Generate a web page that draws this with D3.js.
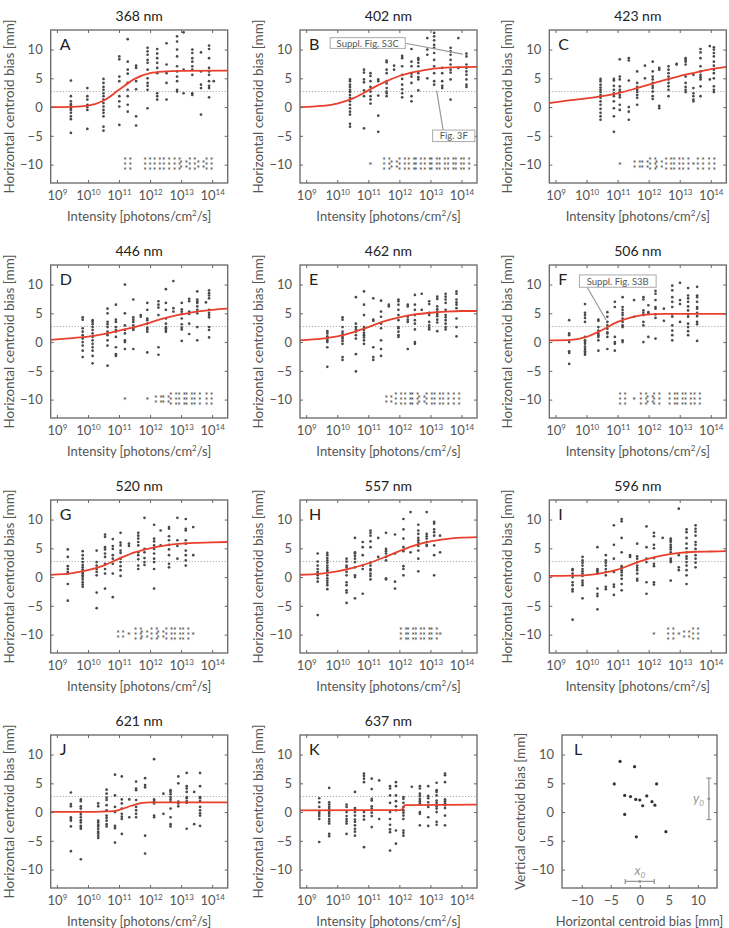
<!DOCTYPE html>
<html><head><meta charset="utf-8">
<script src="https://cdn.jsdelivr.net/npm/d3@7"></script>
<style>body{margin:0;background:#fff} svg{display:block} text{font-family:Lato,"Open Sans",sans-serif}</style>
</head><body><svg id="c" width="729" height="928"></svg>
<script>
// ---------- DATA (log10 intensity columns, bias values in mm) ----------
const A_title="368 nm", B_title="402 nm", C_title="423 nm", D_title="446 nm", E_title="462 nm", F_title="506 nm";
const G_title="520 nm", H_title="557 nm", I_title="596 nm", J_title="621 nm", K_title="637 nm";

const A_cols=[9.45,9.98,10.5,11.01,11.28,11.55,11.92,12.23,12.53,12.87,13.08,13.36,13.64,13.9,14.05];
const A_vals=[[4.6,1.9,1.0,0.5,0.2,0,-0.3,-0.5,-1.0,-1.6,-2.1,-4.5],[3.3,1.9,1.3,0.4,0,-0.5,-3.8],
[4.9,4.2,3.5,3.0,2.4,1.9,1.3,0.7,0.1,-0.5,-1.0,-1.6,-3.4,-4.1],[8.8,8.3,5.3,4.5,1.9,1.0,0.1,-3.1],
[11.8,7.9,6.5,5.8,4.2,3.0,1.9,0.4,-0.8],[7.2,6.8,4.5,3.1,-1.6,-3.2],[10.3,9.7,9.1,8.2,7.7,6.5,5.0,4.2,3.7,3.0,-0.2],
[10.1,9.3,8.5,7.7,6.8,5.9,2.4,1.9,1.3],[11.1,7.4,5.9,4.2,1.3],[12.3,11.4,10.0,8.8,7.1,6.2,5.3,4.5,3.0,2.7],
[13.0,6.5,2.4],[10.0,9.4,8.5,7.9,7.1,6.5,5.6,2.4,2.1],[9.5,6.2,3.9,3.3,-1.3],[10.7,10.1,8.5,6.8,6.2,5.6,4.5,3.7,3.3,1.7],[4.5]];
const A_stars=[[11.28,3],[11.92,3],[12.23,3],[12.53,3],[12.87,3],[13.08,2],[13.36,3],[13.64,2],[13.9,3]];
const A_fit=[[8.8,0],[9.5,0.05],[10,0.25],[10.5,1.1],[11,3.0],[11.5,4.9],[12,5.9],[12.5,6.2],[13,6.3],[14.5,6.35]];

const B_cols=[10.41,10.86,11.07,11.32,11.59,11.83,12.09,12.39,12.61,12.90,13.12,13.38,13.65,13.90,14.16];
const B_vals=[[4.8,4.5,3.9,3.5,3.0,2.6,2.1,1.6,1.0,0.4,-0.2,-0.8,-1.3,-2.9,-3.4],[6.5,6.0,4.8,4.3,2.9,1.9,-3.7],
[5.9,5.4,4.5,3.5,2.7,1.9,1.3,0.6],[4.8,4.5,2.0,-1.5,-4.3],[8.1,7.8,6.5,5.9,4.5,4.1,3.3,2.7,2.4,1.9],[7.2,6.5],
[8.9,8.5,7.1,5.6,4.9,3.9,3.1,2.4,1.7],[10.1,7.9,7.1,5.8,5.3,4.2,1.9,1.0],[8.5,8.2,7.7,7.1,5.9,5.2,4.8,2.9],
[12.0,10.0,9.1,5.0],[12.9,12.3,11.6,10.8,10.3,9.4,8.2,7.1,5.9,4.5,3.9],[6.8,5.9,4.5,3.7,3.3],
[10.3,9.7,9.1,8.2,7.4,6.5,6.0,4.8,1.3],[12.0,6.8],[9.3,8.8,7.4,6.8,6.2,5.6,4.8,3.9,3.5]];
const B_stars=[[11.07,1],[11.59,3],[11.83,2],[12.09,3],[12.39,3],[12.61,3],[12.90,3],[13.12,3],[13.38,3],[13.65,3],[13.90,3],[14.16,3]];
const B_fit=[[8.8,0],[9.5,0.2],[10,0.6],[10.5,1.5],[11,2.9],[11.5,4.3],[12,5.4],[12.5,6.1],[13,6.6],[13.5,6.85],[14,6.95],[14.5,7.0]];

const C_cols=[10.45,10.88,11.07,11.36,11.63,11.88,12.13,12.34,12.64,12.90,13.19,13.44,13.67,13.97,14.1];
const C_vals=[[4.9,4.5,3.9,3.4,3.0,2.6,2.1,1.6,1.0,0.4,-0.3,-1.0,-1.6,-2.2],[4.9,4.6,3.7,3.0,2.4,1.9,1.0,-0.2,-1.6,-4.3],
[8.3,5.3,4.8,3.6,3.0,2.6,2.1,1.7,0.4,-0.5],[8.5,8.1,4.6,0.0,-0.8,-2.2],[6.2,4.2,3.5,3.0,2.6,2.1,1.6,0.4],[7.2,5.0],
[7.9,6.2,5.3,4.8,4.2,3.7,3.3,2.7,1.9,1.4],[6.8,6.5,0.2,-0.2],[7.1,6.5,5.9,5.3,4.8,4.2,3.6,3.0,1.9],[7.5,7.4],
[8.5,8.2,7.9,7.4,5.3,4.2,3.5,3.0,2.6],[5.6,3.3,2.4,1.9,1.3,1.0],[10.1,9.5,8.5,7.1,6.2,5.6,5.2,4.8,3.6,1.9],[10.6,4.8],
[10.4,10.0,9.4,8.8,7.9,7.2,6.5,5.9,5.0,3.6,3.0,2.6]];
const C_stars=[[11.07,1],[11.63,2],[11.88,2],[12.13,3],[12.34,2],[12.64,3],[12.90,3],[13.19,3],[13.44,1],[13.67,3],[14.03,3]];
const C_fit=[[8.8,0.7],[9.5,1.2],[10,1.5],[10.5,1.9],[11,2.4],[11.5,3.1],[12,3.9],[12.5,4.7],[13,5.4],[13.5,6.0],[14,6.6],[14.5,7.0]];

const D_cols=[9.83,10.15,10.63,10.9,11.19,11.46,11.7,11.91,12.27,12.51,12.75,13.02,13.26,13.52,13.8,13.9];
const D_vals=[[4.3,3.9,2.4,1.8,1.2,0.6,0,-0.6,-1.5,-2.6],[3.8,3.5,3.1,2.6,2.1,1.5,0.9,0.3,-0.3,-0.9,-1.5,-2.4,-3.7],
[5.8,5.0,3.5,3.1,2.6,1.8,1.2,0.3,-0.6,-4.1],[6.5,3.9,3.5,2.6,2.1,1.8,0.9,-0.9,-2.1,-2.4],[10.0,5.0,2.9,2.1,1.5,0.3,0.0,-1.2],
[7.4,4.3,3.9,3.5,2.9,2.4,2.1,-1.2],[4.7,4.4],[6.8,5.6,4.1,3.8,3.2,2.5,2.2,1.8,-1.8],[7.1,6.5,6.0,4.7,-0.9,-2.2],
[9.2,6.8,5.6,4.1,3.2,2.6,2.4,2.1,1.8],[10.6,5.9,5.3],[6.8,5.7,5.3,4.9,4.1,3.1,2.5,2.2,0.2],[7.5,7.1,5.3,4.9,3.2,1.4],
[8.8,7.4,7.1,6.8,6.2,5.6,5.0,2.6,0.3],[6.9],[9.0,8.5,8.1,7.6,5.6,5.1,4.7,4.3,2.6,2.1,0.8]];
const D_stars=[[11.19,1],[11.91,1],[12.27,2],[12.51,2],[12.75,3],[13.02,3],[13.26,3],[13.52,3],[13.9,3]];
const D_fit=[[8.8,0.4],[9.5,0.7],[10,0.95],[10.5,1.4],[11,2.0],[11.5,2.6],[12,3.4],[12.5,4.2],[13,4.8],[13.5,5.3],[14,5.6],[14.5,5.8]];

const E_cols=[9.68,10.17,10.6,10.86,11.16,11.41,11.66,11.97,12.27,12.5,12.72,12.96,13.22,13.49,13.84];
const E_vals=[[1.9,1.5,1.0,0.6,0.3,0,-0.9,-4.3],[4.3,3.9,2.6,1.8,1.4,0.9,0.6,0.2,-0.3,-2.6,-3.1],
[7.8,3.2,2.6,2.2,1.8,1.2,0.6,-2.1,-5.1],[8.8,6.5,4.7,2.6,2.1,1.6,1.2,0.8,0.3,-0.3],[7.6,3.9,3.7,-0.9,-2.6,-3.1],
[7.2,5.3,4.4,3.2,2.4,0.3,-1.2,-2.4],[6.5,6.2],[7.4,7.1,6.5,5.6,4.7,3.8,2.6,2.4,1.8,1.2,0.9],[6.5,6.2,4.4,3.9,3.5,-1.2],
[8.2,6.5,5.6,4.7,3.8,3.2,2.2,0.0,-0.3],[8.4,5.6],[7.1,6.6,5.1,4.7,3.5,2.9,2.5,2.2],[7.9,7.5,6.2,5.7,5.3,4.9,4.5,3.9,3.4,1.9],
[8.4,7.9,7.4,6.8,5.6,4.7,4.3,3.8,3.2,2.6,2.2],[8.8,8.4,7.4,6.9,6.5,5.9,4.1,2.6,1.0]];
const E_stars=[[11.66,2],[11.97,3],[12.27,3],[12.5,3],[12.72,2],[12.96,3],[13.22,3],[13.49,3],[13.84,3]];
const E_fit=[[8.8,0.3],[9.5,0.6],[10,1.0],[10.5,1.7],[11,2.6],[11.5,3.6],[12,4.3],[12.5,4.8],[13,5.1],[13.5,5.3],[14,5.4],[14.5,5.4]];

const F_cols=[9.44,9.95,10.38,10.67,10.91,11.16,11.53,11.83,11.99,12.22,12.49,12.76,13.01,13.27,13.56];
const F_vals=[[3.8,1.5,1.2,0,-1.6,-1.9,-3.8],[6.6,5.1,4.7,4.2,3.5,0.9,0.3,0,-0.3,-0.8,-1.2,-1.6,-1.9,-2.2],
[3.9,3.7,2.6,2.0,1.5,1.2,0.9,0.3,-1.5],[5.2,4.4,3.5,2.9,2.3,1.7,1.5,0.9,-1.2],[7.0,6.1,0.9,0,-0.3,-1.5],
[7.8,6.1,5.6,5.1,4.7,4.1,3.5,2.9,2.6,0.3,0],[7.3,4.4],[7.8,7.4,5.5,5.1,4.7,3.5,2.9,0],[6.4,5.2,4.9,0.9],
[8.9,8.4,7.3,6.1,5.8,4.8,4.2,0.6],[5.8,3.7],[9.8,9.0,7.8,7.0,6.1,4.8,4.4,2.9,2.0,1.2,0.3],[10.3,7.3,6.6,3.5],
[9.4,8.1,7.6,7.0,6.2,5.5,4.8,4.4,3.2,2.6,1.9,1.2],[9.6,8.1,7.8,7.0,6.1,5.8,5.1,4.5,3.5,3.1,0.2]];
const F_stars=[[11.16,3],[11.53,1],[11.83,3],[12.05,2],[12.26,3],[12.76,3],[13.01,3],[13.27,3],[13.56,3]];
const F_fit=[[8.8,0.3],[9.5,0.4],[10,0.9],[10.5,2.1],[11,3.5],[11.5,4.4],[12,4.8],[12.5,4.9],[14.5,4.9]];

const G_cols=[9.35,9.83,10.28,10.55,10.8,11.05,11.32,11.62,11.82,12.13,12.34,12.61,12.88,13.15,13.39];
const G_vals=[[4.8,3.5,1.9,1.4,0.9,0.6,-1.2,-4.1],[4.5,3.8,3.2,2.6,2.1,1.7,1.3,0.9,0.6,0.3,0,-0.4,-0.9,-1.3,-1.7],
[4.6,2.6,2.0,1.4,0.9,0.3,-2.7,-5.4],[7.4,7.0,5.2,4.8,4.1,3.5,2.3,1.4,0.6,-2.0],[6.6,5.4,4.9,3.8,3.2,2.3,0.6,-3.5],
[7.7,6.0,5.5,4.6,4.2,3.2,2.6,1.9,1.2,0.2],[5.8,5.4],[7.7,7.2,6.7,6.1,5.5,4.3,3.8,3.1,2.0,1.4],[10.3,4.9,4.3,3.3,2.6,2.1],
[9.1,6.7,6.2,5.5,4.9,4.1,3.2,2.6,1.4,-2.0],[8.1,5.5],[8.7,8.4,7.1,6.4,5.6,4.8,3.8,2.3,1.7],[10.3,6.4,5.4,3.2],
[10.1,8.4,8.1,6.4,5.8,4.6,3.8,2.9,2.0],[8.7,3.8]];
const G_stars=[[11.05,2],[11.32,1],[11.62,3],[11.82,2],[12.13,3],[12.34,2],[12.61,3],[12.88,3],[13.15,3],[13.39,1]];
const G_fit=[[8.8,0.4],[9.5,0.7],[10,1.2],[10.5,2.0],[11,3.2],[11.5,4.3],[12,5.0],[12.5,5.5],[13,5.8],[13.5,5.95],[14,6.05],[14.5,6.1]];

const H_cols=[9.37,9.68,10.3,10.57,10.82,11.07,11.32,11.57,11.86,12.13,12.36,12.61,12.88,13.12,13.31];
const H_vals=[[4.1,2.7,2.0,1.4,0.9,0.6,0.3,-0.2,-0.8,-6.6],[4.2,3.8,3.3,2.9,2.5,2.0,1.6,1.2,0.9,0.3,-0.2,-0.6,-1.0,-1.4,-2.1],
[3.2,2.7,2.0,1.7,0.9,0.3,-0.9,-1.4,-2.3,-2.7,-4.5],[6.8,4.3,4.1,3.7,3.2,2.6,1.7,0.3,0,-3.7],[6.1,5.2,3.8,2.0,1.4,-2.9],
[8.1,7.7,7.2,6.2,5.2,2.5,2.0,1.4,1.2,0.6,0.2,-0.4],[6.8,3.5],[7.7,4.9,4.5,4.1,3.5,2.9,-0.2,-0.4],[7.4,4.1,-0.8,-2.0],
[10.1,8.3,6.7,5.2,4.5,1.9,1.4,0.3],[11.3,4.3],[9.1,8.1,7.5,6.8,6.4,6.0,5.4,4.6,3.2,1.0],[11.3,7.5,7.1,6.7,6.1,5.6,5.4],
[9.6,9.3,8.3,7.8,7.2,5.5,3.8,0.3],[7.2,4.3]];
const H_stars=[[12.13,3],[12.36,3],[12.61,3],[12.88,3],[13.12,3],[13.31,1]];
const H_fit=[[8.8,0.4],[9.5,0.6],[10,1.0],[10.5,1.6],[11,2.4],[11.5,3.4],[12,4.5],[12.5,5.5],[13,6.2],[13.5,6.6],[14,6.85],[14.5,6.95]];

const I_cols=[9.55,9.87,10.35,10.62,10.88,11.13,11.4,11.63,11.93,12.17,12.45,12.71,12.97,13.22,13.51];
const I_vals=[[1.4,1.2,0.6,0,-0.9,-1.4,-2.1,-2.5,-7.4],[3.5,2.9,2.5,2.0,1.4,1.0,0.6,0.2,-0.6,-1.0,-1.4,-3.7],
[5.2,1.4,1.2,0.9,0.6,-2.0,-2.9,-3.3,-5.6],[3.8,2.9,2.5,2.0,1.4,0.9,0.3,-1.7,-2.1],[9.0,5.6,3.2,0.9,-1.3,-1.7,-3.1],
[10.1,9.7,6.8,4.3,1.9,1.6,1.2,0.8,0.3,-0.3,-1.2,-2.3],[3.8,3.5],[5.8,3.6,3.2,2.6,2.0,1.6,1.2,0.6,-0.3,-0.6],
[8.8,5.2,3.2,2.6,-0.9,-2.9],[7.7,7.1,5.6,5.0,3.3,2.3,1.9,-0.9,-1.3],[6.8],[6.7,6.4,6.1,5.6,5.2,4.8,4.3,3.2,2.9,2.6,-0.6],
[11.9,3.8,1.7,1.2],[8.3,7.8,6.8,5.8,5.0,4.3,3.6,3.2,2.6,2.0,1.2,0.3,-1.2],[9.0,8.4,7.9,7.2,6.1,5.6,4.9,3.8,3.2,2.5,1.7]];
const I_stars=[[12.17,1],[12.71,3],[12.97,1],[13.22,2],[13.51,3]];
const I_fit=[[8.8,0.2],[9.5,0.25],[10,0.35],[10.5,0.7],[11,1.3],[11.5,2.3],[12,3.2],[12.5,3.8],[13,4.2],[13.5,4.4],[14,4.45],[14.5,4.5]];

const J_cols=[9.45,9.77,10.33,10.6,10.87,11.09,11.33,11.55,11.84,12.13,12.43,12.66,12.91,13.18,13.42,13.61];
const J_vals=[[3.4,1.4,1.0,-0.9,-1.2,-1.5,-2.5,-6.8],[2.2,1.9,1.0,0.6,0,-0.4,-0.9,-1.4,-1.8,-2.4,-2.6,-2.9,-8.2],
[1.5,1.0,-1.5,-1.8,-2.2,-2.5,-2.9,-3.4,-3.7,-4.1,-4.5],[3.9,3.2,2.5,2.1,1.2,0.3,-0.6,-1.0,-1.5,-2.1,-2.5],
[6.5,2.9,0.9,0,-2.4,-2.8,-5.3],[6.2,2.2,1.5,0.6,-0.3,-0.8,-1.2,-3.8],[2.2,-0.9],[5.3,4.1,3.8,2.1,0.9,0.3,-0.3,-0.9],
[5.9,4.7,4.3,-4.1,-7.2],[9.2,2.2,1.9,1.5,-0.6,-0.9],[3.2,-0.3],[3.8,3.5,3.1,2.6,2.2,1.8,0.6,-0.9,-2.1,-2.5],
[6.2,5.0,1.8,1.5,1.0],[6.8,4.5,4.1,3.5,2.6,2.4,1.9,1.6,-2.9],[3.5,-2.1],[6.8,4.5,2.6,2.4,1.9,0.9,0.3,-0.2,-0.6,-2.4]];
const J_stars=[];
const J_fit=[[8.8,0.05],[10,0.05],[10.5,0.1],[10.8,0.15],[11.1,0.55],[11.4,1.1],[11.7,1.55],[12,1.7],[14.5,1.7]];

const K_cols=[9.42,9.74,10.3,10.57,10.86,11.11,11.35,11.7,11.89,12.13,12.4,12.66,12.93,13.2,13.47];
const K_vals=[[2.4,1.7,0.9,0,-0.3,-0.7,-1.2,-5.2],[4.2,1.7,1.3,0.9,0.5,0,-0.3,-0.7,-1.2,-1.6,-2.0,-3.8,-4.2],
[1.3,0.9,0,-0.7,-1.2,-1.6,-2.0,-3.8],[3.5,0.7,0.5,0,-0.6,-1.3,-1.7,-2.3,-2.9,-3.4,-4.1],[6.7,6.3,5.8,5.2,0,-0.7,-1.3,-6.1],
[5.8,4.0,2.3,2.0,1.0,0.6,-0.1,-0.7,-2.6],[5.5,-1.2],[4.5,4.1,2.9,1.6,0,-1.2,-2.2,-3.0,-3.5,-6.7],[5.2,4.5,2.9,1.9,1.0,0.3,-3.2,-5.5],
[2.6,2.3,1.6,0.9,0.3,-0.1,-0.6,-1.2,-3.2,-3.6,-4.1],[4.4],[4.5,4.1,3.2,2.8,2.3,1.9,1.5,0,-0.3,-2.3],[4.5,2.8,2.4,1.7,0.9,-0.9,-2.4],
[5.1,3.8,3.5,2.9,2.0,1.6,1.0,0.6,0,-1.7,-2.2],[6.7,6.4,5.2,2.2,1.9,1.5,1.2,0.7,-0.6,-2.3]];
const K_stars=[];
const K_fit=[[8.8,0.3],[12.05,0.35],[12.12,0.7],[12.18,1.2],[14.5,1.3]];

const L_horiz=[-3.4,-0.9,-4.4,2.9,-2.6,-1.6,-0.7,0,1.2,0.5,2.1,2.6,-2.6,-0.6,4.5];
const L_vert=[8.8,7.9,4.9,4.9,2.9,2.7,2.2,2.1,2.8,1.1,1.8,1.2,-0.4,-4.3,-3.4];
const L_x0=[-2.5,0,2.5];   // horizontal spread bar
const L_y0=[-1.3,2.3,5.9]; // vertical spread bar

const xTickExps=[9,10,11,12,13,14];
const yTicks=[-10,-5,0,5,10];
const lTicks=[-10,-5,0,5,10];
const refLevel=2.7;

// ---------- LAYOUT ----------
const svg=d3.select("#c");
const PW=177, PH=153;
const COLX=[50.7,300,549.3], ROWY=[30,265,500,735];
const INK="#555", RED="#e8402c";

const panels=[
 ["A",A_title,A_cols,A_vals,A_stars,A_fit,0,0],["B",B_title,B_cols,B_vals,B_stars,B_fit,1,0],["C",C_title,C_cols,C_vals,C_stars,C_fit,2,0],
 ["D",D_title,D_cols,D_vals,D_stars,D_fit,0,1],["E",E_title,E_cols,E_vals,E_stars,E_fit,1,1],["F",F_title,F_cols,F_vals,F_stars,F_fit,2,1],
 ["G",G_title,G_cols,G_vals,G_stars,G_fit,0,2],["H",H_title,H_cols,H_vals,H_stars,H_fit,1,2],["I",I_title,I_cols,I_vals,I_stars,I_fit,2,2],
 ["J",J_title,J_cols,J_vals,J_stars,J_fit,0,3],["K",K_title,K_cols,K_vals,K_stars,K_fit,1,3]];

function styleAxis(g){g.select(".domain").remove();g.selectAll(".tick line").attr("stroke","#666");
 g.selectAll("text").attr("fill",INK).style("font-size","13px").style("font-family","Lato, sans-serif");}

function frame(g,left,top,w,h){
 g.append("rect").attr("x",left).attr("y",top).attr("width",w).attr("height",h)
  .attr("fill","none").attr("stroke","#666").attr("stroke-width",1.3);
}

const scales={};
panels.forEach(([letter,title,cols,vals,stars,fit,ci,ri])=>{
 const left=COLX[ci], top=ROWY[ri];
 const g=svg.append("g");
 const x=d3.scaleLog().domain([10**8.8,10**14.5]).range([left,left+PW]);
 const y=d3.scaleLinear().domain([-13.2,13.4]).range([top+PH,top]);
 scales[letter]={x,y};
 g.append("line").attr("x1",left).attr("x2",left+PW).attr("y1",y(refLevel)).attr("y2",y(refLevel))
  .attr("stroke","#aaa").attr("stroke-width",1).attr("stroke-dasharray","1.2,1.8");
 const pts=[]; cols.forEach((c,i)=>vals[i].forEach(v=>pts.push([c,v])));
 g.selectAll("circle.p").data(pts).join("circle").attr("cx",d=>x(10**d[0])).attr("cy",d=>y(d[1]))
  .attr("r",1.35).attr("fill","#4a4a4a");
 g.append("path").datum(fit).attr("fill","none").attr("stroke",RED).attr("stroke-width",1.8)
  .attr("d",d3.line().x(d=>x(10**d[0])).y(d=>y(d[1])).curve(d3.curveMonotoneX));
 // significance stars, one asterisk per text
 stars.forEach(([c,n])=>{
  const cx=x(10**c), cy=y(-10);
  const ncol=n>1?2:1;
  for(let r=0;r<n;r++)for(let k=0;k<ncol;k++){
   const yy=cy+(r-(n-1)/2)*5, xx=cx+(k-(ncol-1)/2)*5.2;
   g.append("text").attr("x",xx).attr("y",yy+4.6).attr("text-anchor","middle")
    .style("font-size",n>1?"8.5px":"10px").attr("fill","#444").text("*");
  }
 });
 const gb=g.append("g").attr("transform",`translate(0,${top+PH})`)
  .call(d3.axisBottom(x).tickValues(xTickExps.map(e=>10**e)).tickSizeInner(-3).tickSizeOuter(0).tickPadding(8).tickFormat(()=>"10"));
 styleAxis(gb);
 gb.selectAll(".tick text").each(function(d){
  d3.select(this).append("tspan").attr("dy","-5").style("font-size","8px").text(Math.round(Math.log10(d)));
 });
 styleAxis(g.append("g").attr("transform",`translate(0,${top})`)
  .call(d3.axisTop(x).tickValues(xTickExps.map(e=>10**e)).tickSizeInner(-3).tickSizeOuter(0).tickFormat("")));
 styleAxis(g.append("g").attr("transform",`translate(${left},0)`)
  .call(d3.axisLeft(y).tickValues(yTicks).tickSizeInner(-3).tickSizeOuter(0).tickPadding(8)));
 styleAxis(g.append("g").attr("transform",`translate(${left+PW},0)`)
  .call(d3.axisRight(y).tickValues(yTicks).tickSizeInner(-3).tickSizeOuter(0).tickFormat("")));
 frame(g,left,top,PW,PH);
 g.append("text").attr("x",left+PW/2).attr("y",top-9).attr("text-anchor","middle").attr("fill","#222")
  .style("font-size","14px").text(title);
 g.append("text").attr("x",left+9).attr("y",top+20).attr("fill","#222").style("font-size","16px").text(letter);
 g.append("text").attr("transform",`translate(${left-37},${top+PH/2}) rotate(-90)`).attr("text-anchor","middle")
  .attr("fill",INK).style("font-size","13.5px").text("Horizontal centroid bias [mm]");
 const xl=g.append("text").attr("x",left+PW/2).attr("y",top+PH+38).attr("text-anchor","middle")
  .attr("fill",INK).style("font-size","13px");
 xl.append("tspan").text("Intensity [photons/cm");
 xl.append("tspan").attr("dy","-5").style("font-size","8px").text("2");
 xl.append("tspan").attr("dy","5").text("/s]");
});

// ---------- annotations ----------
function callout(sc,label,bx0,bx1,by0,by1,from,to){
 const {x,y}=sc; const g=svg.append("g");
 g.append("line").attr("x1",x(10**from[0])).attr("y1",y(from[1])).attr("x2",x(10**to[0])).attr("y2",y(to[1]))
  .attr("stroke","#999").attr("stroke-width",1.2);
 g.append("rect").attr("x",x(10**bx0)).attr("y",y(by0)).attr("width",x(10**bx1)-x(10**bx0)).attr("height",y(by1)-y(by0))
  .attr("fill","#fff").attr("stroke","#aaa").attr("stroke-width",1);
 g.append("text").attr("x",(x(10**bx0)+x(10**bx1))/2).attr("y",(y(by0)+y(by1))/2+3.5).attr("text-anchor","middle")
  .attr("fill",INK).style("font-size","9.5px").text(label);
}
callout(scales.B,"Suppl. Fig. S3C",9.77,12.19,12.07,10.2,[12.19,11.1],[14.04,9.2]);
callout(scales.B,"Fig. 3F",13.07,14.43,-4.0,-6.0,[13.41,-4.0],[13.2,2.85]);
callout(scales.F,"Suppl. Fig. S3B",9.77,12.24,11.67,9.53,[10.02,9.53],[10.63,3.85]);

// ---------- panel L ----------
(function(){
 const left=562, top=ROWY[3], w=155, h=PH;
 const g=svg.append("g");
 const x=d3.scaleLinear().domain([-13.4,13.3]).range([left,left+w]);
 const y=d3.scaleLinear().domain([-13.2,13.4]).range([top+h,top]);
 g.selectAll("circle").data(L_horiz.map((v,i)=>[v,L_vert[i]])).join("circle")
  .attr("cx",d=>x(d[0])).attr("cy",d=>y(d[1])).attr("r",1.6).attr("fill","#333");
 styleAxis(g.append("g").attr("transform",`translate(0,${top+h})`)
  .call(d3.axisBottom(x).tickValues(lTicks).tickSizeInner(-3).tickSizeOuter(0).tickPadding(8)));
 styleAxis(g.append("g").attr("transform",`translate(0,${top})`).call(d3.axisTop(x).tickValues(lTicks).tickSizeInner(-3).tickSizeOuter(0).tickFormat("")));
 styleAxis(g.append("g").attr("transform",`translate(${left},0)`).call(d3.axisLeft(y).tickValues(yTicks).tickSizeInner(-3).tickSizeOuter(0).tickPadding(8)));
 styleAxis(g.append("g").attr("transform",`translate(${left+w},0)`).call(d3.axisRight(y).tickValues(yTicks).tickSizeInner(-3).tickSizeOuter(0).tickFormat("")));
 frame(g,left,top,w,h);
 const gray="#999";
 const yb=-12.05, xb=11.9;
 g.append("line").attr("x1",x(L_x0[0])).attr("x2",x(L_x0[2])).attr("y1",y(yb)).attr("y2",y(yb)).attr("stroke",gray).attr("stroke-width",1.3);
 [0,2].forEach(i=>g.append("line").attr("x1",x(L_x0[i])).attr("x2",x(L_x0[i])).attr("y1",y(yb)-2.5).attr("y2",y(yb)+2.5).attr("stroke",gray).attr("stroke-width",1.3));
 g.append("circle").attr("cx",x(L_x0[1])).attr("cy",y(yb)).attr("r",1.5).attr("fill",gray);
 g.append("line").attr("y1",y(L_y0[0])).attr("y2",y(L_y0[2])).attr("x1",x(xb)).attr("x2",x(xb)).attr("stroke",gray).attr("stroke-width",1.3);
 [0,2].forEach(i=>g.append("line").attr("y1",y(L_y0[i])).attr("y2",y(L_y0[i])).attr("x1",x(xb)-2.5).attr("x2",x(xb)+2.5).attr("stroke",gray).attr("stroke-width",1.3));
 g.append("circle").attr("cx",x(xb)).attr("cy",y(L_y0[1])).attr("r",1.5).attr("fill",gray);
 const tx=g.append("text").attr("x",x(0)).attr("y",y(yb)-6).attr("text-anchor","middle").attr("fill",gray)
  .style("font-size","13px").style("font-style","italic");
 tx.append("tspan").text("x"); tx.append("tspan").attr("dy","3").style("font-size","8px").text("0");
 const ty=g.append("text").attr("x",x(xb)-5).attr("y",y(L_y0[1])+4).attr("text-anchor","end").attr("fill",gray)
  .style("font-size","13px").style("font-style","italic");
 ty.append("tspan").text("y"); ty.append("tspan").attr("dy","3").style("font-size","8px").text("0");
 g.append("text").attr("x",left+12).attr("y",top+20).attr("fill","#222").style("font-size","16px").text("L");
 g.append("text").attr("transform",`translate(${left-37},${top+h/2}) rotate(-90)`).attr("text-anchor","middle")
  .attr("fill",INK).style("font-size","13.5px").text("Vertical centroid bias [mm]");
 g.append("text").attr("x",left+w/2).attr("y",top+h+38).attr("text-anchor","middle")
  .attr("fill",INK).style("font-size","13px").text("Horizontal centroid bias [mm]");
})();
</script></body></html>
